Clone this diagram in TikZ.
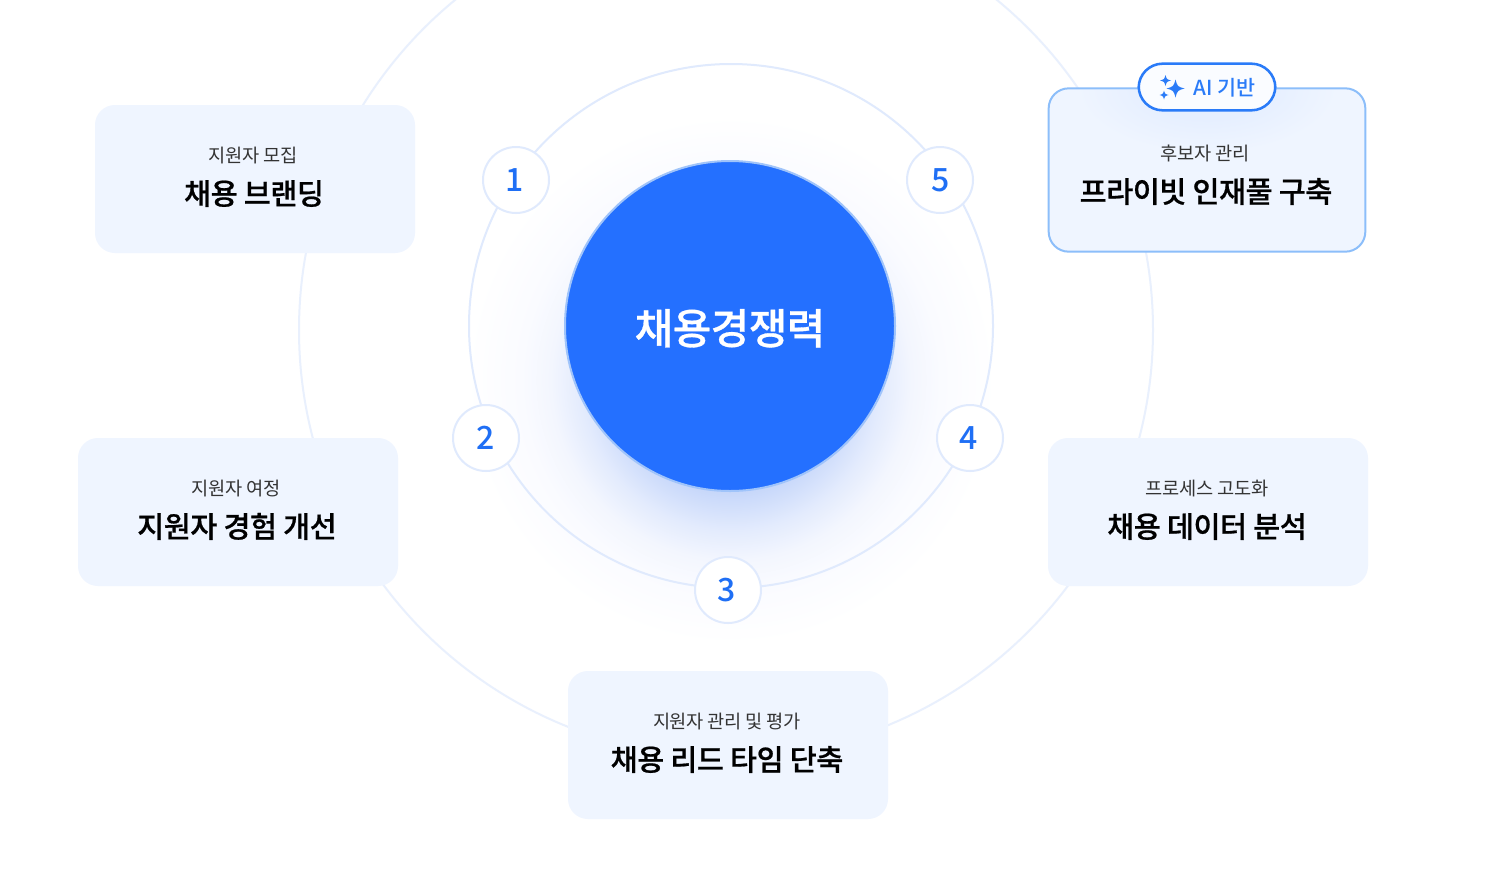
\documentclass[tikz,border=0pt]{standalone}
\usepackage{fontspec}
\newfontfamily\krfont{Noto Sans CJK KR}[LetterSpace=-1.5]
\newfontfamily\krsemi{Noto Sans CJK KR Medium}[LetterSpace=-1.5,FakeBold=0.7]
\newfontfamily\krnum{Noto Sans CJK KR Medium}
\definecolor{cardfill}{HTML}{EFF5FF}
\definecolor{ringa}{HTML}{E9F0FD}
\definecolor{ringb}{HTML}{E0EAFD}
\definecolor{mainblue}{HTML}{2470FF}
\definecolor{numblue}{HTML}{1F6FF5}
\definecolor{aiblue}{HTML}{2A7BF8}
\definecolor{glowa}{HTML}{C0D2FA}
\definecolor{glowb}{HTML}{C5D6FA}
\definecolor{glowc}{HTML}{E3EBFD}
\definecolor{glowd}{HTML}{F3F6FE}
\definecolor{glowe}{HTML}{FAFBFF}
\definecolor{pillglow}{HTML}{E6EFFF}
\pgfdeclareradialshading{hubglow}{\pgfpoint{0bp}{0bp}}{color(0bp)=(glowa); color(10.4bp)=(glowb); color(14.2bp)=(glowc); color(17bp)=(glowd); color(19.8bp)=(glowe); color(25bp)=(white); color(50bp)=(white)}
\pgfdeclareradialshading{badgeglow}{\pgfpoint{0bp}{0bp}}{color(0bp)=(pillglow); color(12bp)=(pillglow); color(25bp)=(cardfill); color(50bp)=(cardfill)}
\tikzset{
  x=0.75pt,y=-0.75pt,
  card/.style={draw=none,fill=cardfill,rounded corners=15pt,minimum width=240pt,minimum height=111pt,inner sep=0pt},
  aicard/.style={draw={rgb,255:red,140;green,190;blue,250},line width=1.5pt,fill=cardfill,rounded corners=15pt,minimum width=237.5pt,minimum height=122.5pt,inner sep=0pt},
  subtext/.style={anchor=base,inner sep=0pt,text=black!80,font=\krfont\fontsize{14pt}{16pt}\selectfont},
  titletext/.style={anchor=base,inner sep=0pt,text=black,font=\krsemi\fontsize{22pt}{26pt}\selectfont},
  numnode/.style={circle,draw=ringb,line width=1.5pt,fill=white,minimum size=49.5pt,inner sep=0pt},
  numtext/.style={anchor=base,inner sep=0pt,text=numblue,font=\krnum\fontsize{24pt}{28pt}\selectfont},
  ringline/.style={line width=1.5pt},
  hub/.style={circle,fill=mainblue,draw={rgb,255:red,160;green,196;blue,250},line width=1.5pt,minimum size=247.5pt,inner sep=0pt},
  pill/.style={rounded corners=18pt,draw=aiblue,line width=1.9pt,fill={rgb,255:red,250;green,252;blue,255},minimum width=102.5pt,minimum height=35pt,inner sep=0pt},
  spark/.style={fill=aiblue,draw=none},
}
\newcommand{\sparkshape}[3]{% x, y, r
  \fill[spark] (#1,#2-#3) .. controls (#1+0.22*#3,#2-0.22*#3) .. (#1+#3,#2)
    .. controls (#1+0.22*#3,#2+0.22*#3) .. (#1,#2+#3)
    .. controls (#1-0.22*#3,#2+0.22*#3) .. (#1-#3,#2)
    .. controls (#1-0.22*#3,#2-0.22*#3) .. (#1,#2-#3) -- cycle;}
\begin{document}
\begin{tikzpicture}
\useasboundingbox (0,0) rectangle (1488,868);
\clip (0,0) rectangle (1488,868);
\fill[white] (0,0) rectangle (1488,868);
% glow
\shade[shading=hubglow] (731,380) circle [radius=265];
% rings
\draw[ringline,draw=ringa] (726,330) circle [radius=427];
\draw[ringline,draw=ringb] (731,326) circle [radius=262];
% hub
\node[hub] (hubnode) at (730,326) {};
\node[anchor=base,inner sep=0pt,text=white,font=\krsemi\fontsize{31.5pt}{38pt}\selectfont] (hublabel) at (730,344) {채용경쟁력};
% numbers
\node[numnode] (n1) at (516,180) {};
\node[numnode] (n2) at (486,438) {};
\node[numnode] (n3) at (728,590) {};
\node[numnode] (n4) at (970,438) {};
\node[numnode] (n5) at (940,180) {};
\node[numtext] (t1) at (515,191) {1};
\node[numtext] (t2) at (486,449) {2};
\node[numtext] (t3) at (727,601) {3};
\node[numtext] (t4) at (969,449) {4};
\node[numtext] (t5) at (941,191) {5};
% cards
\node[card] (c1) at (255,179) {};
\node[subtext] (c1s) at (253,162.5) {지원자 모집};
\node[titletext] (c1t) at (254,204.5) {채용 브랜딩};
\node[card] (c2) at (238,512) {};
\node[subtext] (c2s) at (236,495.5) {지원자 여정};
\node[titletext] (c2t) at (237,537.5) {지원자 경험 개선};
\node[card] (c3) at (728,745) {};
\node[subtext] (c3s) at (727,728.5) {지원자 관리 및 평가};
\node[titletext] (c3t) at (727,770.5) {채용 리드 타임 단축};
\node[card] (c4) at (1208,512) {};
\node[subtext] (c4s) at (1207,495.5) {프로세스 고도화};
\node[titletext] (c4t) at (1207,537.5) {채용 데이터 분석};
\node[aicard] (c5) at (1207,170) {};
\begin{scope}
\clip[rounded corners=14pt] (1050,90) rectangle (1364,250);
\shade[shading=badgeglow] (1207,88) ellipse [x radius=130,y radius=65];
\end{scope}
\node[subtext] (c5s) at (1205,160.5) {후보자 관리};
\node[titletext] (c5t) at (1206,202.5) {프라이빗 인재풀 구축};
% badge
\node[pill] (badge) at (1207,87) {};
\sparkshape{1175.5}{88.5}{9}
\sparkshape{1165.5}{80.5}{5.5}
\sparkshape{1164}{95}{4.5}
\node[anchor=base,inner sep=0pt,text=aiblue,font=\krnum\fontsize{15.5pt}{18pt}\selectfont] (badgetext) at (1224.5,95) {AI 기반};
\end{tikzpicture}
\end{document}
